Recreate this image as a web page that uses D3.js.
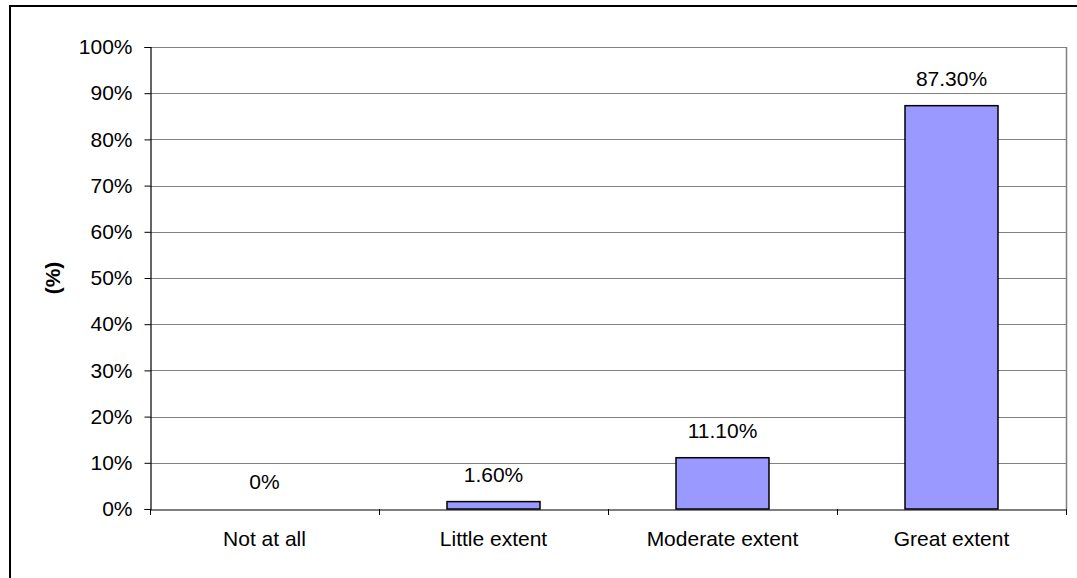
<!DOCTYPE html>
<html>
<head>
<meta charset="utf-8">
<script src="https://cdn.jsdelivr.net/npm/d3@7"></script>
<style>
  html, body { margin: 0; padding: 0; background: #fff; }
  svg { display: block; }
  text { font-family: "Liberation Sans", Arial, sans-serif; }
</style>
</head>
<body>
<svg id="chart" width="1077" height="578"></svg>
<script>
const categories = ["Not at all", "Little extent", "Moderate extent", "Great extent"];
const values = [0, 1.6, 11.1, 87.3];
const valueLabels = ["0%", "1.60%", "11.10%", "87.30%"];
const yTicks = [0, 10, 20, 30, 40, 50, 60, 70, 80, 90, 100];
const yTitle = "(%)";

const svg = d3.select("#chart");
const W = 1077, H = 578;
const plot = { left: 150, right: 1066, top: 47, bottom: 509 };
const FS = 21;

// outer frame
svg.append("rect")
  .attr("x", 10).attr("y", 6)
  .attr("width", W + 10).attr("height", H + 10)
  .attr("fill", "#fff").attr("stroke", "#000").attr("stroke-width", 2);

const x = d3.scaleBand().domain(categories).range([plot.left, plot.right]).paddingInner(0).paddingOuter(0);
const y = d3.scaleLinear().domain([0, 100]).range([plot.bottom, plot.top]);

// gridlines
svg.append("g").selectAll("line").data(yTicks.filter(d => d > 0)).join("line")
  .attr("x1", plot.left).attr("x2", plot.right)
  .attr("y1", d => Math.round(y(d)) + 0.5).attr("y2", d => Math.round(y(d)) + 0.5)
  .attr("stroke", "#808080").attr("stroke-width", 1);

// right plot border
svg.append("line")
  .attr("x1", plot.right + 0.5).attr("x2", plot.right + 0.5)
  .attr("y1", plot.top).attr("y2", plot.bottom)
  .attr("stroke", "#808080").attr("stroke-width", 1.5);

// bars
const barW = 93;
svg.append("g").selectAll("rect").data(categories.map((c, i) => ({ c, v: values[i] })).filter(d => d.v > 0)).join("rect")
  .attr("x", d => x(d.c) + x.bandwidth() / 2 - barW / 2)
  .attr("y", d => y(d.v))
  .attr("width", barW)
  .attr("height", d => plot.bottom - y(d.v))
  .attr("fill", "#9999ff").attr("stroke", "#000").attr("stroke-width", 1.5);

// value labels
svg.append("g").selectAll("text").data(values).join("text")
  .attr("x", (d, i) => x(categories[i]) + x.bandwidth() / 2)
  .attr("y", d => y(d) - 20)
  .attr("text-anchor", "middle")
  .attr("font-size", FS)
  .attr("fill", "#000")
  .text((d, i) => valueLabels[i]);

// y axis
const yAxis = d3.axisLeft(y).tickValues(yTicks).tickFormat(d => d + "%").tickSize(6).tickPadding(12);
const gy = svg.append("g").attr("transform", `translate(${plot.left + 0.5},0)`).call(yAxis);
gy.select(".domain").attr("stroke", "#000").attr("stroke-width", 1.2);
gy.selectAll(".tick line").attr("stroke", "#000");
gy.selectAll(".tick text").attr("font-size", FS).attr("fill", "#000")
  .attr("font-family", "Liberation Sans, Arial, sans-serif");

// x axis
const xAxis = d3.axisBottom(x).tickSize(0).tickPadding(22);
const gx = svg.append("g").attr("transform", `translate(0,${plot.bottom + 0.5})`).call(xAxis);
gx.select(".domain").attr("stroke", "#000").attr("stroke-width", 1.2);
gx.selectAll(".tick text").attr("font-size", FS).attr("fill", "#000")
  .attr("font-family", "Liberation Sans, Arial, sans-serif");
// boundary tick marks between categories
const bounds = categories.map(c => x(c)).concat([plot.right]);
svg.append("g").selectAll("line").data(bounds).join("line")
  .attr("x1", d => Math.round(d) + 0.5).attr("x2", d => Math.round(d) + 0.5)
  .attr("y1", plot.bottom).attr("y2", plot.bottom + 6)
  .attr("stroke", "#000").attr("stroke-width", 1);

// y title
svg.append("text")
  .attr("transform", `translate(60,${(plot.top + plot.bottom) / 2}) rotate(-90)`)
  .attr("text-anchor", "middle")
  .attr("font-size", FS).attr("font-weight", "bold")
  .text(yTitle);
</script>
</body>
</html>
